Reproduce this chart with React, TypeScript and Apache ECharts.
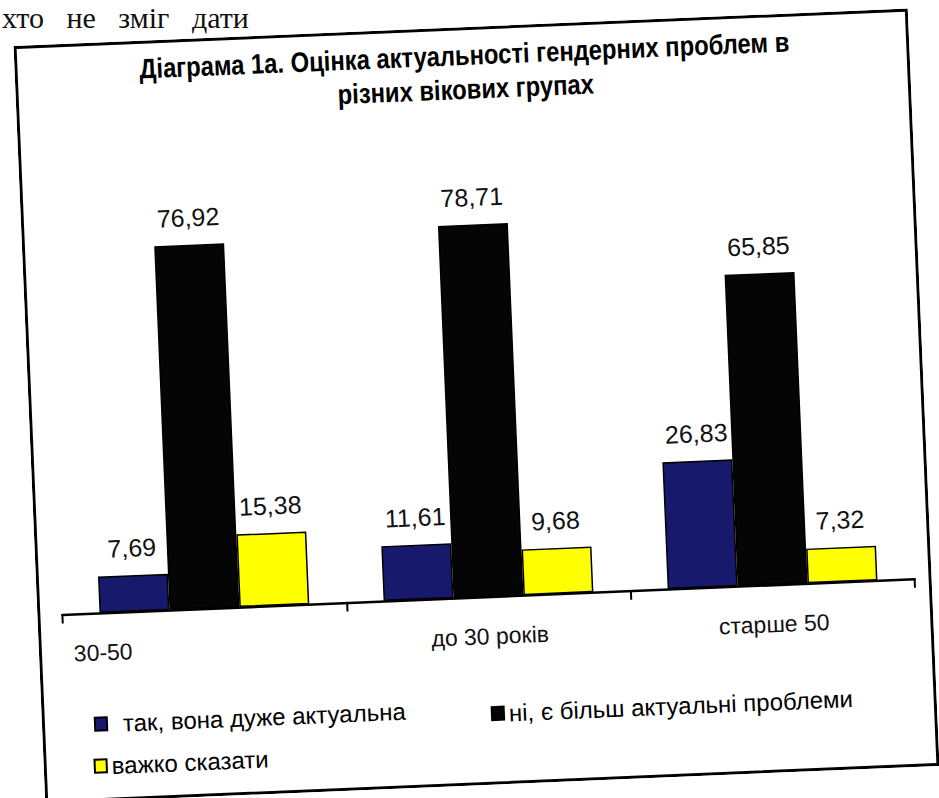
import React, { useEffect, useRef } from "react";
import * as echarts from "echarts";

const categories = ["30-50", "до 30 років", "старше 50"];
const seriesNames = [
  "так, вона дуже актуальна",
  "ні, є більш актуальні проблеми",
  "важко сказати",
];
const yesValues = [7.69, 11.61, 26.83];
const noValues = [76.92, 78.71, 65.85];
const hardValues = [15.38, 9.68, 7.32];
const titleText =
  "Діаграма 1а. Оцінка актуальності гендерних проблем в\nрізних вікових групах";
const pageText = "хто не зміг дати";

const CW = 895;
const CH = 758;
const SANS = "Liberation Sans, Arial, sans-serif";

const fmt = (p: any) => Number(p.value).toFixed(2).replace(".", ",");

export default function App() {
  const ref = useRef<HTMLDivElement | null>(null);

  useEffect(() => {
    if (!ref.current) return;
    const chart = echarts.init(ref.current, null, { renderer: "svg" });
    const label = {
      show: true,
      position: "top" as const,
      distance: 15,
      formatter: fmt,
      fontFamily: SANS,
      fontSize: 25,
      color: "#111",
    };
    const colors = ["#171a6c", "#050505", "#ffff00"];
    const values = [yesValues, noValues, hardValues];
    const legendBase = {
      orient: "horizontal" as const,
      padding: 0,
      icon: "rect",
      itemWidth: 12,
      itemHeight: 13,
      selectedMode: false,
    };
    chart.setOption({
      animation: false,
      backgroundColor: "#fff",
      graphic: [
        {
          type: "rect",
          shape: { x: 1.5, y: 1.5, width: CW - 3, height: CH - 3 },
          style: { fill: "none", stroke: "#000", lineWidth: 3 },
          silent: true,
        },
        {
          type: "text",
          x: 450,
          y: 11,
          scaleX: 0.85,
          style: {
            text: titleText,
            font: "bold 28px Liberation Sans, Arial, sans-serif",
            fill: "#000",
            align: "center",
            verticalAlign: "top",
            lineHeight: 34,
          },
        },
      ],
      legend: [
        {
          ...legendBase,
          data: [seriesNames[0]],
          left: 52,
          top: 669,
          textStyle: { fontFamily: SANS, fontSize: 24, color: "#000", padding: [0, 0, 0, 11] },
        },
        {
          ...legendBase,
          data: [seriesNames[1]],
          left: 449,
          top: 675,
          textStyle: { fontFamily: SANS, fontSize: 24, color: "#000" },
        },
        {
          ...legendBase,
          data: [seriesNames[2]],
          left: 50,
          top: 711,
          textStyle: { fontFamily: SANS, fontSize: 24, color: "#000" },
        },
      ],
      grid: { left: 25, right: 17, top: 144, bottom: 188, containLabel: false },
      xAxis: {
        type: "category",
        data: categories,
        axisLine: { lineStyle: { color: "#000", width: 2.5 } },
        axisTick: { show: true, length: 9, lineStyle: { color: "#000", width: 2 } },
        axisLabel: {
          interval: 0,
          margin: 28,
          fontFamily: SANS,
          fontSize: 23,
          color: "#111",
          formatter: (v: string) => (v === categories[0] ? `{shift|${v}}` : v),
          rich: {
            shift: {
              padding: [0, 206, 0, 0],
              fontFamily: SANS,
              fontSize: 23,
              color: "#111",
            },
          },
        },
      },
      yAxis: {
        type: "value",
        min: 0,
        max: 90,
        show: false,
        splitLine: { show: false },
      },
      series: seriesNames.map((name, i) => ({
        name,
        type: "bar",
        data: values[i],
        barWidth: 70,
        barGap: "0%",
        itemStyle: { color: colors[i], borderColor: "#000", borderWidth: 1.5 },
        label,
      })),
    });
    return () => chart.dispose();
  }, []);

  return (
    <div
      style={{
        position: "fixed",
        left: 0,
        top: 0,
        width: 939,
        height: 798,
        overflow: "hidden",
        background: "#fff",
      }}
    >
      <div
        style={{
          position: "absolute",
          left: 2,
          top: 1,
          fontFamily: "Liberation Serif, Times New Roman, serif",
          fontSize: 30,
          lineHeight: "34px",
          wordSpacing: 15,
          color: "#111",
          whiteSpace: "nowrap",
        }}
      >
        {pageText}
      </div>
      <div
        ref={ref}
        style={{
          position: "absolute",
          left: 28.5,
          top: 27,
          width: CW,
          height: CH,
          transform: "rotate(-2.4deg)",
          transformOrigin: "50% 50%",
        }}
      />
    </div>
  );
}
